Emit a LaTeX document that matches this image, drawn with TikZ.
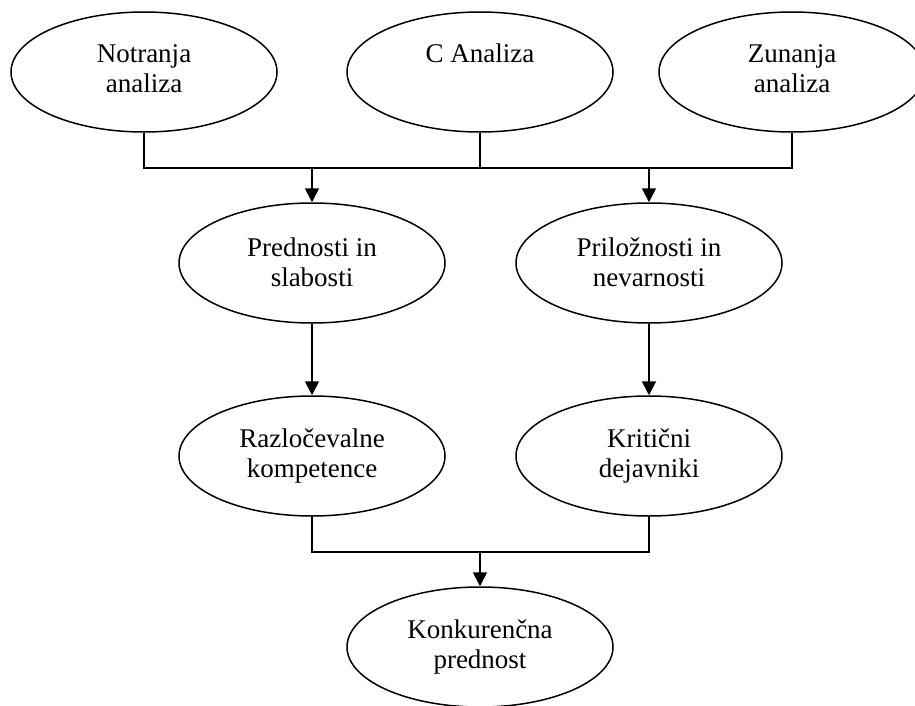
\documentclass[tikz,border=0pt]{standalone}
\usepackage{fontspec}
\setmainfont{Liberation Serif}
\usetikzlibrary{shapes.geometric,arrows.meta,calc}
\tikzset{
  oval/.style={ellipse,draw,line width=1.5pt,minimum width=266pt,minimum height=120pt,inner sep=0pt},
  txt/.style={anchor=base,inner sep=0pt,font=\fontsize{27pt}{30pt}\selectfont},
  conn/.style={line width=1.8pt},
  arr/.style={line width=1.8pt,-{Triangle[width=14pt,length=14pt]}}
}
\begin{document}
\begin{tikzpicture}[x=1pt,y=1pt]
\useasboundingbox (0,0) rectangle (915,-706);
\clip (0,0) rectangle (915,-706);
% top row
\node[oval] (na) at (144,-72) {};
\node[txt] at ($(na.center)+(0,9)$) {Notranja};
\node[txt] at ($(na.center)+(0,-21)$) {analiza};
\node[oval] (ca) at (480,-72) {};
\node[txt] at ($(ca.center)+(0,9)$) {C Analiza};
\node[oval] (za) at (792,-72) {};
\node[txt] at ($(za.center)+(0,9)$) {Zunanja};
\node[txt] at ($(za.center)+(0,-21)$) {analiza};
% middle row
\node[oval] (ps) at (312,-263) {};
\node[txt] at ($(ps.center)+(0,7)$) {Prednosti in};
\node[txt] at ($(ps.center)+(0,-23)$) {slabosti};
\node[oval] (pn) at (649,-263) {};
\node[txt] at ($(pn.center)+(0,7)$) {Priložnosti in};
\node[txt] at ($(pn.center)+(0,-23)$) {nevarnosti};
% third row
\node[oval] (rk) at (312,-456) {};
\node[txt] at ($(rk.center)+(0,9)$) {Razločevalne};
\node[txt] at ($(rk.center)+(0,-21)$) {kompetence};
\node[oval] (kd) at (649,-456) {};
\node[txt] at ($(kd.center)+(0,9)$) {Kritični};
\node[txt] at ($(kd.center)+(0,-21)$) {dejavniki};
% bottom
\node[oval] (kp) at (480,-647) {};
\node[txt] at ($(kp.center)+(0,9)$) {Konkurenčna};
\node[txt] at ($(kp.center)+(0,-21)$) {prednost};
% connectors top
\coordinate (busL) at (144,-168);
\coordinate (busR) at (792,-168);
\draw[conn] (na.south) -- (busL) -- (busR) -- (za.south);
\draw[conn] (ca.south) -- (ca.south |- busL);
\draw[arr] (ps.north |- busL) -- (ps.north);
\draw[arr] (pn.north |- busL) -- (pn.north);
% middle to third
\draw[arr] (ps.south) -- (rk.north);
\draw[arr] (pn.south) -- (kd.north);
% third to bottom
\coordinate (bL) at (312,-552);
\draw[conn] (rk.south) -- (bL) -- (bL -| kd.south) -- (kd.south);
\draw[arr] (kp.north |- bL) -- (kp.north);
\end{tikzpicture}
\end{document}
